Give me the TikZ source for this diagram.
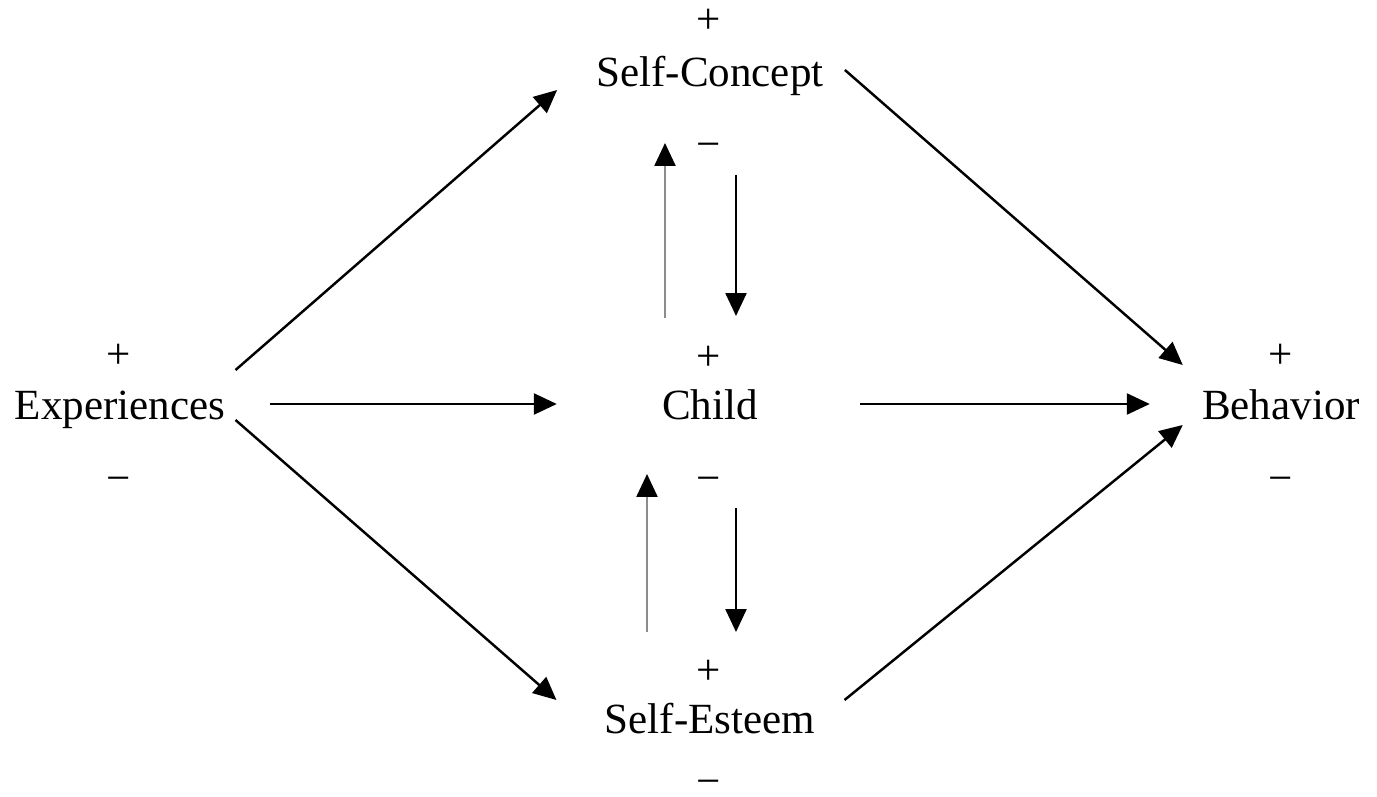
\documentclass[tikz,border=0pt]{standalone}
\usepackage{fontspec}
\setmainfont{Liberation Serif}
\usetikzlibrary{arrows.meta}

\begin{document}
\begin{tikzpicture}[x=0.02cm,y=0.02cm,
    lbl/.style={inner sep=0pt,anchor=base,font=\fontsize{24.5}{29}\selectfont},
    arr/.style={line width=1.4pt,-{Triangle[length=0.46cm,width=0.42cm]}},
    garr/.style={arr,draw=black!45,-{Triangle[length=0.46cm,width=0.42cm,color=black,fill=black]}}]
  \useasboundingbox (0,0) rectangle (1377,796);

  \node[lbl] (exp) at (120,377) {Experiences};
  \node[lbl] (sc) at (710,709) {Self-Concept};
  \node[lbl] (child) at (710,377) {Child};
  \node[lbl] (se) at (710,63) {Self-Esteem};
  \node[lbl] (beh) at (1281,377) {Behavior};

  \node[lbl] (expp) at (119,428) {+};
  \node[lbl] (expm) at (119,304) {−};
  \node[lbl] (scp) at (709,762) {+};
  \node[lbl] (scm) at (709,637) {−};
  \node[lbl] (childp) at (709,426) {+};
  \node[lbl] (childm) at (709,304) {−};
  \node[lbl] (sep) at (709,112) {+};
  \node[lbl] (sem) at (709,1) {−};
  \node[lbl] (behp) at (1281,428) {+};
  \node[lbl] (behm) at (1281,304) {−};

  \draw[arr] ([shift={(10,49)}]exp.base east) -- ([shift={(-39,-3)}]sc.base west);
  \draw[arr] ([shift={(44,15)}]exp.base east) -- ([shift={(-105,15)}]child.base west);
  \draw[arr] ([shift={(10,-1)}]exp.base east) -- ([shift={(-48,33)}]se.base west);

  \draw[arr] ([shift={(21,17)}]sc.base east) -- ([shift={(-19,54)}]beh.base west);
  \draw[arr] ([shift={(102,15)}]child.base east) -- ([shift={(-52,15)}]beh.base west);
  \draw[arr] ([shift={(29,33)}]se.base east) -- ([shift={(-19,-6)}]beh.base west);

  \draw[garr] ([shift={(-45,101)}]child.base) -- ([shift={(-45,-56)}]sc.base);
  \draw[arr] ([shift={(26,-88)}]sc.base) -- ([shift={(26,103)}]child.base);
  \draw[garr] ([shift={(-63,101)}]se.base) -- ([shift={(-63,-55)}]child.base);
  \draw[arr] ([shift={(26,-89)}]child.base) -- ([shift={(26,101)}]se.base);
\end{tikzpicture}
\end{document}
